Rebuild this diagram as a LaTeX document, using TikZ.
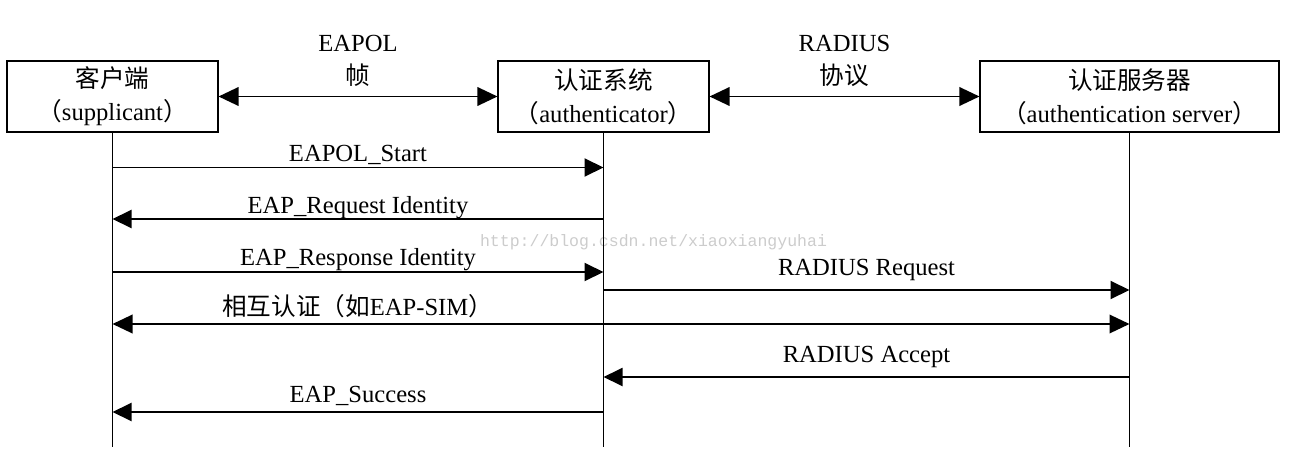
\documentclass[tikz,border=0pt]{standalone}
\usepackage{fontspec}
\setmainfont{Liberation Serif}
\newfontfamily\cjk{Noto Sans CJK SC}
\newfontfamily\wmfont{Liberation Mono}
\usetikzlibrary{arrows.meta}
\usepackage{xcolor}
\newcommand{\zh}[1]{{\cjk #1}}

\begin{document}
\begin{tikzpicture}[
		font=\fontsize{14}{18.8}\selectfont,
		box/.style={
			rectangle,
			draw,
			line width=0.6pt,
			minimum height=1.42cm,
			align=center,
			inner sep=0pt
		},
		arrow/.style={
			{Triangle[length=0.4cm,width=0.37cm]}-{Triangle[length=0.4cm,width=0.37cm]},
			line width=1.1pt
		},
		msg/.style={
			-{Triangle[length=0.38cm,width=0.36cm]},
			line width=1.1pt
		},
		lifeline/.style={
			line width=1.1pt
		},
		msgtext/.style={
			anchor=base,
			yshift=#1
		},
		msgtext/.default=0.13cm
		]
		
		\useasboundingbox (0,0) rectangle (25.78,-9.18);
		
		% watermark
		\node[text=black!20, font=\wmfont\fontsize{9.4}{11}\selectfont, anchor=base] (wm) at (13.07,-4.92) {http://blog.csdn.net/xiaoxiangyuhai};
		
		% parties
		\node[box, minimum width=4.22cm] (client) at (2.25,-1.93) {
			\zh{客户端}\\
			\zh{（}supplicant\zh{）}
		};
		
		\node[box, minimum width=4.22cm] (authsys) at (12.07,-1.93) {
			\zh{认证系统}\\
			\zh{（}authenticator\zh{）}
		};
		
		\node[box, minimum width=5.98cm] (authsrv) at (22.59,-1.93) {
			\zh{认证服务器}\\
			\zh{（}authentication server\zh{）}
		};
		
		% protocols
		\node[align=center] (eapol) at (7.16,-1.22) {EAPOL\\\zh{帧}};
		\node[align=center] (radius) at (16.89,-1.22) {RADIUS\\\zh{协议}};
		%--
		\draw[arrow] (client) -- (authsys);
		\draw[arrow] (authsys) -- (authsrv);
		
		% lifelines
		\coordinate (clientend) at (2.25,-8.94);
		\coordinate (authsysend) at (12.07,-8.94);
		\coordinate (authsrvend) at (22.59,-8.94);
		%--
		\draw[lifeline] (client) -- (clientend);
		\draw[lifeline] (authsys) -- (authsysend);
		\draw[lifeline] (authsrv) -- (authsrvend);
		
		% message rows
		\coordinate (r1) at (0,-3.35);
		\coordinate (r2) at (0,-4.38);
		\coordinate (r3) at (0,-5.44);
		\coordinate (r4) at (0,-5.80);
		\coordinate (r5) at (0,-6.48);
		\coordinate (r6) at (0,-7.54);
		\coordinate (r7) at (0,-8.24);
		%--
		\draw[msg] (client |- r1) -- (authsys |- r1) node[midway, msgtext=0.12cm] {EAPOL\_Start};
		\draw[msg] (authsys |- r2) -- (client |- r2) node[midway, msgtext=0.12cm] {EAP\_Request Identity};
		\draw[msg] (client |- r3) -- (authsys |- r3) node[midway, msgtext=0.14cm] {EAP\_Response Identity};
		\draw[msg] (authsys |- r4) -- (authsrv |- r4) node[midway, msgtext=0.3cm] {RADIUS Request};
		\draw[arrow] (client |- r5) -- (authsrv |- r5) node[pos=0.241, msgtext=0.18cm] {\zh{相互认证（如}EAP-SIM\zh{）}};
		\draw[msg] (authsrv |- r6) -- (authsys |- r6) node[midway, msgtext=0.3cm] {RADIUS Accept};
		\draw[msg] (authsys |- r7) -- (client |- r7) node[midway, msgtext=0.2cm] {EAP\_Success};
		
	\end{tikzpicture}
\end{document}
